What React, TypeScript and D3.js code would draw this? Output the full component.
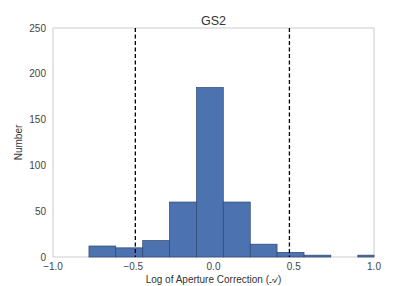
import React from 'react';
import * as d3 from 'd3';

// histogram bins (left edges) and counts
const binEdges = [-0.776, -0.609, -0.441, -0.274, -0.106, 0.061, 0.229, 0.396, 0.564, 0.731, 0.899, 1.066];
const counts = [12, 10, 18, 60, 185, 60, 14, 5, 2, 0, 2];
const cutLines = [-0.487, 0.473];
const xTicks = [-1.0, -0.5, 0.0, 0.5, 1.0];
const yTicks = [0, 50, 100, 150, 200, 250];

const W = 415;
const H = 286;
const margin = { top: 28, right: 41, bottom: 29, left: 53 };

export default function App() {
  const iw = W - margin.left - margin.right;
  const ih = H - margin.top - margin.bottom;
  const x = d3.scaleLinear().domain([-1, 1]).range([0, iw]);
  const y = d3.scaleLinear().domain([0, 250]).range([ih, 0]);
  const font = 'Liberation Sans, Arial, sans-serif';

  const bars = counts.map((c, i) => {
    const x0 = x(binEdges[i]);
    const x1 = Math.min(x(binEdges[i + 1]), iw);
    return { x0, x1, c };
  });

  return (
    <svg width={W} height={H} style={{ position: 'fixed', left: 0, top: 0, background: '#fff' }} fontFamily={font}>
      <g transform={`translate(${margin.left},${margin.top})`}>
        <rect x={0} y={0} width={iw} height={ih} fill="#fff" stroke="#cccccc" strokeWidth={1} />
        {bars.filter(b => b.c > 0).map((b, i) => (
          <rect key={i} x={b.x0} y={y(b.c)} width={b.x1 - b.x0} height={ih - y(b.c)}
            fill="#4c72b0" stroke="#2e4670" strokeWidth={0.7} />
        ))}
        {cutLines.map((v, i) => (
          <line key={i} x1={x(v)} x2={x(v)} y1={0} y2={ih} stroke="#000" strokeWidth={1.3} strokeDasharray="4,2.5" />
        ))}
        {yTicks.map(t => (
          <text key={t} x={-7} y={y(t)} dy="0.35em" textAnchor="end" fontSize={10} fill="#444">{t}</text>
        ))}
        {xTicks.map(t => (
          <text key={t} x={x(t)} y={ih + 13} textAnchor="middle" fontSize={10} fill="#444">
            {d3.format('.1f')(t).replace('-', '\u2212')}
          </text>
        ))}
        <text x={iw / 2} y={-3} textAnchor="middle" fontSize={12.5} fill="#333">GS2</text>
        <text x={iw / 2} y={ih + 26} textAnchor="middle" fontSize={10} fill="#333">
          Log of Aperture Correction (<tspan fontFamily="DejaVu Sans, sans-serif" fontSize={9}>{'\uD835\uDC9C'}</tspan>)
        </text>
        <text transform={`translate(${-31},${ih / 2}) rotate(-90)`} textAnchor="middle" fontSize={10} fill="#333">Number</text>
      </g>
    </svg>
  );
}
